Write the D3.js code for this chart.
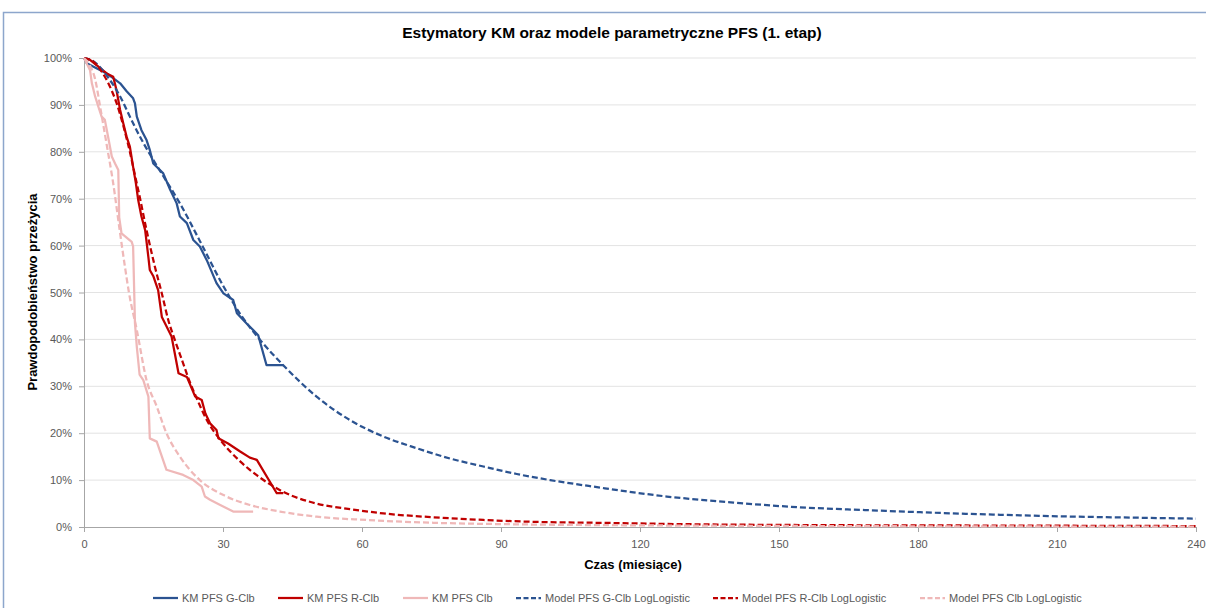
<!DOCTYPE html>
<html>
<head>
<meta charset="utf-8">
<script src="https://cdn.jsdelivr.net/npm/d3@7"></script>
<style>
  body { margin: 0; background: #fff; }
  text { font-family: "Liberation Sans", Arial, sans-serif; }
</style>
</head>
<body>
<div id="chart"></div>
<script>
// KM estimates, [month, survival %]
var kmGClb = [[0,100],[0.6,98.9],[2.7,97.8],[4.9,96.7],[6.3,95.7],[7.8,94.6],[9.2,92.9],[10.6,91.4],[11,90.3],[11.4,87.5],[12.4,84.6],[13.5,82.5],[14.2,80.4],[14.95,77.5],[16,76.5],[17.1,75.4],[18.6,71.9],[20,69],[20.7,66.2],[22.2,64.8],[23.6,61.2],[25,59.8],[26.5,56.9],[28.6,52],[30.1,49.8],[32.2,48.4],[33,45.6],[35.1,43.4],[37.6,40.9],[39.4,34.5],[43,34.5]];
var kmRClb = [[0,100],[1.3,99.6],[4.9,96.7],[6.3,96],[7,93.2],[7.8,88.9],[8.5,86],[9.2,83.2],[9.9,81.1],[10.6,76.8],[11.2,73.3],[11.7,69.7],[12.4,66.2],[13.2,63.3],[13.9,57.5],[14.2,54.8],[15,53.4],[16,50.5],[16.8,44.8],[17.5,43.4],[18.9,40.6],[19.6,37],[20.4,32.8],[22.2,32],[24,27.8],[25.4,27.1],[26.2,24.2],[27.2,22.1],[28.6,20.7],[29,18.9],[31.1,17.8],[33.7,16.1],[35.8,14.8],[37.3,14.3],[41.6,7.2],[43,7.2]];
var kmClb = [[0,100],[0.2,99.6],[1.3,97.4],[1.7,94.6],[2.4,91.8],[3.1,89.6],[3.8,87.5],[4.5,86.8],[5.2,83.2],[6,79],[6.7,77.5],[7.4,76.1],[7.6,66],[8.1,62.6],[10.3,60.8],[10.6,59.8],[11,43.4],[11.4,38.4],[12,32.5],[12.8,31.3],[13.9,27.8],[14.2,18.9],[15.7,18.2],[17.8,12.2],[21.4,11.1],[23.6,10],[25.4,8.6],[26.1,6.5],[27.2,5.8],[29.4,4.7],[32.2,3.3],[36.5,3.3]];

// parametric (log-logistic) model curves
var modelGClb = [[0,100],[2,99.3],[5.6,95.3],[7.8,91.8],[9.9,87.5],[11.4,84.5],[14.5,79],[17,75],[20.7,69],[25,61],[30,51.5],[34,45],[38,39.9],[43,34.5],[50.2,27.8],[57.4,22.8],[64.6,19.3],[71.8,16.8],[79,14.6],[86.2,12.9],[93.4,11.3],[100.6,10],[110.7,8.5],[125.8,6.5],[140.2,5.2],[154.5,4.2],[168.9,3.6],[183.3,3.05],[197.7,2.6],[212.1,2.25],[226,2],[240,1.8]];
var modelRClb = [[0,100],[2,99.2],[4.5,96],[6,93],[7,90.5],[8.5,85.5],[9.9,80],[11,75],[12,70.5],[13.5,63.3],[15.3,55.5],[16.8,49.8],[18.2,44.1],[19.6,39.9],[21.4,34.9],[22.5,31.8],[24.3,27.5],[26.5,22.8],[29.4,18.6],[33.7,14],[37.9,10.6],[43,7.5],[50.2,5],[57.4,3.8],[64.6,2.9],[75.4,2.07],[86.2,1.5],[97,1.1],[110.7,0.9],[130,0.6],[160,0.4],[200,0.3],[240,0.2]];
var modelClb = [[0,100],[1.2,98.5],[2.4,95.5],[3.5,89.5],[4.9,81.5],[6.3,73.3],[7.6,64],[8.85,55.4],[9.7,50],[11.4,42],[13.5,31.3],[15.7,25.7],[17.8,20],[20.7,15],[25,10],[30.1,6.8],[35.8,4.7],[42.3,3.3],[50.2,2.2],[61,1.5],[75.4,0.9],[93.4,0.57],[120,0.35],[160,0.2],[200,0.12],[240,0.08]];

var seriesNames = ["KM PFS G-Clb","KM PFS R-Clb","KM PFS Clb","Model PFS G-Clb LogLogistic","Model PFS R-Clb LogLogistic","Model PFS Clb LogLogistic"];
var seriesData = [kmGClb, kmRClb, kmClb, modelGClb, modelRClb, modelClb];
var colors = ["#2b5391","#c00000","#efb8b8","#2b5391","#c00000","#efb8b8"];
var dashed = [false,false,false,true,true,true];

var xTicks = [0,30,60,90,120,150,180,210,240];
var yTicks = [0,10,20,30,40,50,60,70,80,90,100];

var svgwidth = 1206, svgheight = 608;
var plot = {left:84, right:1196, top:58, bottom:527};

var svg = d3.select("#chart").append("svg")
    .attr("width", svgwidth)
    .attr("height", svgheight);

// chart frame
svg.append("rect")
    .attr("x", 3.5).attr("y", 12.5)
    .attr("width", 1300).attr("height", 800)
    .attr("fill", "none")
    .attr("stroke", "#8da6cc")
    .attr("stroke-width", 1.5);

var x = d3.scaleLinear().domain([0,240]).range([plot.left, plot.right]);
var y = d3.scaleLinear().domain([0,100]).range([plot.bottom, plot.top]);

// gridlines
svg.append("g").selectAll("line")
    .data(yTicks.filter(function(d){ return d > 0; }))
    .enter().append("line")
    .attr("x1", plot.left).attr("x2", plot.right)
    .attr("y1", function(d){ return y(d); })
    .attr("y2", function(d){ return y(d); })
    .attr("stroke", "#e3e3e3")
    .attr("stroke-width", 1);

// axes
var xaxis = svg.append("g")
    .attr("transform", "translate(0," + plot.bottom + ")")
    .call(d3.axisBottom(x).tickValues(xTicks).tickSize(5).tickSizeOuter(0).tickPadding(8));
var yaxis = svg.append("g")
    .attr("transform", "translate(" + plot.left + ",0)")
    .call(d3.axisLeft(y).tickValues(yTicks).tickSize(5).tickSizeOuter(0).tickPadding(7)
        .tickFormat(function(d){ return d + "%"; }));

[xaxis, yaxis].forEach(function(a){
    a.select(".domain").attr("stroke", "#a6a6a6");
    a.selectAll(".tick line").attr("stroke", "#a6a6a6");
    a.selectAll(".tick text")
        .attr("fill", "#595959")
        .style("font-size", "11px")
        .style("font-family", "'Liberation Sans', sans-serif");
});

// series
var line = d3.line()
    .x(function(d){ return x(d[0]); })
    .y(function(d){ return y(d[1]); });
var smooth = d3.line()
    .x(function(d){ return x(d[0]); })
    .y(function(d){ return y(d[1]); })
    .curve(d3.curveMonotoneX);

seriesData.forEach(function(data, i){
    svg.append("path")
        .datum(data)
        .attr("fill", "none")
        .attr("stroke", colors[i])
        .attr("stroke-width", 2.25)
        .attr("stroke-linejoin", "round")
        .attr("stroke-dasharray", dashed[i] ? "6,3" : null)
        .attr("d", dashed[i] ? smooth : line);
});

// title and axis labels
svg.append("text")
    .attr("x", 612).attr("y", 38)
    .attr("text-anchor", "middle")
    .style("font-size", "15.5px").style("font-weight", "bold")
    .attr("fill", "#000")
    .text("Estymatory KM oraz modele parametryczne PFS (1. etap)");

svg.append("text")
    .attr("transform", "translate(37,292) rotate(-90)")
    .attr("text-anchor", "middle")
    .style("font-size", "13px").style("font-weight", "bold")
    .text("Prawdopodobieństwo przeżycia");

svg.append("text")
    .attr("x", 633).attr("y", 569)
    .attr("text-anchor", "middle")
    .style("font-size", "13px").style("font-weight", "bold")
    .text("Czas (miesiące)");

// legend
var legendX = [153, 278, 403, 516, 713, 920];
var legend = svg.append("g").attr("transform", "translate(0,598)");
seriesNames.forEach(function(name, i){
    legend.append("line")
        .attr("x1", legendX[i]).attr("x2", legendX[i] + 25)
        .attr("y1", 0).attr("y2", 0)
        .attr("stroke", colors[i])
        .attr("stroke-width", 2.25)
        .attr("stroke-dasharray", dashed[i] ? "5,2.5" : null);
    legend.append("text")
        .attr("x", legendX[i] + 29).attr("y", 4)
        .attr("fill", "#595959")
        .style("font-size", "11px")
        .text(name);
});
</script>
</body>
</html>
